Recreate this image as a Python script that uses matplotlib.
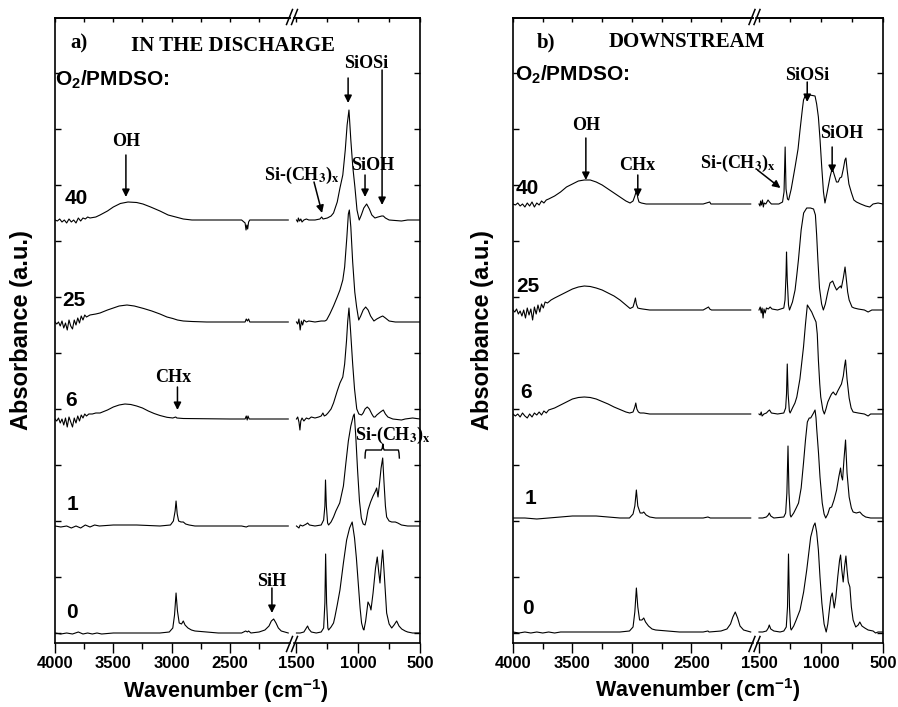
import matplotlib.pyplot as plt
import numpy as np

plt.rcParams['font.family'] = 'Liberation Sans'
plt.rcParams['font.weight'] = 'bold'
plt.rcParams['mathtext.fontset'] = 'custom'
plt.rcParams['mathtext.rm'] = 'Liberation Sans:bold'
plt.rcParams['mathtext.it'] = 'Liberation Sans:bold'
plt.rcParams['mathtext.bf'] = 'Liberation Sans:bold'

# O2/PMDSO ratios, bottom to top
ratios = ['0', '1', '6', '25', '40']

# vertical offset of each spectrum (a.u.)
offsets_a = [10, 117, 224, 321, 423]
offsets_b = [11, 125, 229, 333, 439]

# ---------------- a) IN THE DISCHARGE ----------------
# (wavenumber, absorbance) 4000-2000 cm-1
a0_hi = [(4000, 0), (3950, -1), (3900, 0), (3850, -1), (3800, 1), (3760, -1), (3720, 0), (3680, -1),
         (3640, 0), (3600, -1), (3500, 0), (3300, 0), (3100, 0), (3020, 1), (2990, 5), (2975, 18),
         (2962, 40), (2950, 22), (2935, 10), (2915, 9), (2900, 12), (2885, 8), (2860, 5), (2830, 3),
         (2800, 2), (2700, 1), (2600, 0), (2400, 0), (2365, 2), (2350, 1), (2340, 2), (2320, 0),
         (2250, 1), (2200, 3), (2165, 7), (2145, 12), (2125, 14), (2105, 10), (2085, 5), (2060, 2),
         (2030, 1), (2000, 0)]
a1_hi = [(4000, 0), (3950, -1), (3900, 0), (3860, -2), (3820, 0), (3780, -2), (3740, 1), (3700, -1),
         (3660, 1), (3620, 0), (3500, 1), (3400, 1), (3300, 1), (3100, 0), (3010, 1), (2985, 5),
         (2970, 15), (2962, 25), (2952, 12), (2940, 5), (2920, 4), (2900, 4), (2880, 2), (2850, 1),
         (2800, 0), (2400, 0), (2360, -1), (2340, 0), (2000, 0)]
a6_hi = [(4000, 0), (3985, -2), (3970, 1), (3955, -4), (3940, 0), (3925, -6), (3910, 1), (3895, -8),
         (3880, 2), (3865, -3), (3850, -8), (3835, 1), (3820, -4), (3805, 3), (3790, -2), (3775, 4),
         (3760, 1), (3745, 5), (3730, 3), (3710, 5), (3680, 5), (3650, 6), (3614, 6), (3550, 9),
         (3500, 12), (3450, 14), (3400, 15), (3350, 14.5), (3300, 13), (3250, 11), (3200, 8),
         (3150, 5.5), (3100, 3.5), (3040, 1.7), (2990, 1), (2965, 2), (2955, 1), (2900, 0.5),
         (2500, 0), (2370, 0), (2360, 3), (2352, -1), (2345, 3), (2335, 0), (2000, 0)]
a25_hi = [(4000, 0), (3985, -2), (3970, 0), (3955, -4), (3940, 1), (3925, -6), (3910, -1), (3895, -8),
          (3880, 2), (3865, -4), (3850, -7), (3835, 2), (3820, -3), (3805, 4), (3790, -1), (3775, 6),
          (3760, 2), (3745, 7), (3730, 5), (3700, 7), (3650, 8), (3614, 9), (3550, 12), (3500, 14),
          (3450, 16), (3383, 17), (3320, 16), (3240, 13.5), (3170, 11), (3100, 8), (3040, 5),
          (2990, 3.5), (2950, 2), (2900, 1), (2826, 0.5), (2700, 0), (2370, 0), (2360, 3),
          (2350, 1), (2340, 3), (2330, 0), (2000, 0)]
a40_hi = [(4000, 0), (3980, -1), (3960, 1), (3940, -2), (3920, 0), (3900, -3), (3880, 1), (3860, -2),
          (3840, 0), (3820, -3), (3800, 2), (3780, -1), (3760, 2), (3740, 1), (3720, 3), (3700, 2),
          (3650, 3), (3614, 5), (3550, 9), (3500, 13), (3440, 16.5), (3374, 18), (3300, 17.5),
          (3246, 16), (3180, 13), (3100, 9), (3030, 5), (2955, 2.7), (2900, 1), (2826, 0),
          (2400, 0), (2370, -3), (2362, -10), (2355, -5), (2348, -9), (2340, -2), (2330, 0), (2000, 0)]

# (wavenumber, absorbance) 1500-500 cm-1
a0_lo = [(1500, 0), (1470, 0), (1440, 1), (1420, 5), (1410, 7), (1400, 4), (1380, 1), (1340, 0),
         (1300, 1), (1280, 5), (1270, 30), (1264, 79), (1256, 30), (1246, 5), (1240, 3), (1220, 6),
         (1200, 10), (1189, 16), (1170, 28), (1148, 43), (1120, 70), (1094, 93), (1070, 105),
         (1049, 111), (1030, 95), (1015, 75), (1000, 50), (985, 25), (973, 10), (960, 4), (954, 3),
         (940, 12), (921, 31), (905, 27), (897, 23), (880, 40), (860, 65), (846, 76), (835, 62),
         (824, 50), (812, 70), (802, 83), (790, 60), (780, 40), (770, 20), (750, 9), (729, 5),
         (710, 8), (689, 12), (670, 7), (648, 4), (620, 2), (600, 1), (560, 0), (500, 0)]
a1_lo = [(1500, 0), (1480, -2), (1470, 1), (1450, 0), (1420, 2), (1410, 3), (1395, 1), (1350, 0),
         (1300, 1), (1280, 6), (1270, 20), (1265, 46), (1258, 20), (1248, 3), (1240, 1), (1220, 4),
         (1200, 9), (1181, 15), (1150, 23), (1120, 40), (1100, 63), (1080, 85), (1060, 100),
         (1040, 110), (1032, 112), (1020, 90), (1005, 55), (990, 25), (975, 8), (960, 2), (945, 1),
         (935, 6), (921, 16), (900, 24), (880, 30), (860, 35), (851, 38), (840, 29), (830, 40),
         (815, 58), (802, 68), (792, 45), (780, 20), (770, 9), (750, 5), (729, 4), (700, 4),
         (680, 3), (650, 1), (600, 0), (500, 0)]
a6_lo = [(1500, 0), (1490, 2), (1480, -3), (1472, -11), (1465, -2), (1455, 1), (1440, -2), (1420, 1),
         (1400, 0), (1380, 2), (1350, 1), (1320, 2), (1300, 3), (1286, 6), (1275, 3), (1260, 4),
         (1245, 6), (1220, 10), (1200, 16), (1170, 28), (1148, 36), (1125, 42), (1110, 55),
         (1095, 78), (1085, 98), (1075, 111), (1062, 88), (1045, 55), (1030, 30), (1012, 10),
         (995, 5), (973, 4), (960, 6), (945, 10), (927, 12), (910, 10), (890, 5), (875, 2),
         (864, 2), (850, 4), (820, 7), (797, 9), (780, 5), (760, 2), (720, 0), (650, -1),
         (620, 0), (560, 1), (500, 0)]
a25_lo = [(1500, 0), (1490, -2), (1480, 3), (1470, -8), (1460, 1), (1450, -3), (1440, 2), (1420, 0),
          (1400, 1), (1350, 0), (1300, 1), (1270, 1), (1256, 2), (1230, 8), (1200, 16), (1170, 25),
          (1148, 32), (1125, 42), (1110, 55), (1092, 85), (1080, 108), (1072, 112), (1060, 95),
          (1045, 60), (1028, 30), (1013, 15), (1000, 5), (996, 2), (980, 6), (960, 12), (940, 15),
          (920, 12), (900, 6), (873, 1), (850, 3), (820, 5), (802, 6), (780, 4), (750, 1),
          (700, 0), (500, 0)]
a40_lo = [(1500, 0), (1490, -2), (1485, 2), (1475, -1), (1465, 1), (1455, -2), (1440, 0), (1420, 1),
          (1400, 0), (1350, 0), (1310, 1), (1296, 3), (1285, 1), (1250, 2), (1220, 4), (1200, 7),
          (1170, 18), (1148, 32), (1125, 45), (1105, 70), (1090, 95), (1075, 110), (1060, 80),
          (1044, 53), (1027, 33), (1010, 10), (992, 0), (975, 5), (955, 12), (932, 16), (910, 11),
          (890, 5), (865, 2), (840, 3), (810, 4), (797, 4), (780, 2), (750, 0), (650, -1),
          (600, 0), (500, 0)]

# ---------------- b) DOWNSTREAM ----------------
b0_hi = [(4000, 0), (3950, -1), (3900, 0), (3850, -1), (3800, 0), (3750, -1), (3700, 0), (3650, -1),
         (3600, 0), (3500, 0), (3300, 0), (3100, 0), (3020, 1), (2990, 5), (2975, 20), (2962, 44),
         (2950, 25), (2935, 12), (2915, 12), (2900, 14), (2885, 10), (2860, 6), (2830, 3),
         (2800, 2), (2700, 1), (2600, 0), (2400, 0), (2360, 1), (2350, 0), (2250, 1), (2200, 3),
         (2170, 8), (2150, 15), (2130, 20), (2110, 14), (2090, 6), (2060, 2), (2030, 1), (2000, 0)]
b1_hi = [(4000, 0), (3900, 0), (3800, -1), (3700, 0), (3600, 1), (3500, 2), (3400, 2), (3300, 2),
         (3200, 1), (3100, 0), (3020, 0), (2990, 4), (2975, 12), (2962, 28), (2950, 12), (2930, 5),
         (2910, 5), (2900, 6), (2880, 3), (2850, 1), (2800, 0), (2400, 0), (2360, 1), (2340, 0),
         (2000, 0)]
b6_hi = [(4000, 0), (3980, -2), (3960, 0), (3940, -3), (3920, 1), (3900, -2), (3880, -4), (3860, 0),
         (3840, -3), (3820, 1), (3800, -1), (3780, 2), (3760, -1), (3740, 3), (3720, 1), (3700, 4),
         (3650, 6), (3600, 9), (3550, 12), (3500, 15), (3450, 16.5), (3400, 17), (3350, 16.5),
         (3300, 15), (3250, 12.5), (3200, 10), (3150, 7), (3100, 4.5), (3050, 2), (3018, 1),
         (2990, 2), (2975, 7), (2967, 11), (2958, 5), (2945, 2), (2930, 1), (2900, 1), (2850, 0),
         (2400, 0), (2000, 0)]
b25_hi = [(4000, 0), (3985, -2), (3970, 1), (3955, -4), (3940, -1), (3925, -6), (3910, 0), (3895, -8),
          (3880, 2), (3865, -5), (3850, 1), (3835, -10), (3820, 3), (3805, -4), (3790, 5), (3775, -2),
          (3760, 6), (3745, 2), (3730, 8), (3710, 7), (3680, 10), (3650, 12), (3600, 15),
          (3550, 18), (3500, 21), (3450, 23), (3400, 24), (3350, 23.5), (3300, 22), (3250, 20),
          (3200, 17), (3150, 14), (3100, 10), (3050, 5), (3015, 1.5), (2990, 3), (2978, 8),
          (2970, 12), (2962, 6), (2950, 2), (2935, 1.5), (2910, 1), (2850, 0), (2400, 0),
          (2370, 2), (2355, 3), (2345, 1), (2330, 0), (2000, 0)]
b40_hi = [(4000, 0), (3980, -1), (3960, 1), (3940, -2), (3920, 0), (3900, -3), (3880, 1), (3860, -2),
          (3840, 2), (3820, -3), (3800, 1), (3780, -1), (3760, 3), (3740, 1), (3720, 4), (3700, 5),
          (3650, 8), (3600, 12), (3550, 17), (3500, 20), (3450, 23), (3400, 24), (3350, 24),
          (3300, 22), (3250, 19), (3200, 15), (3150, 11), (3100, 7), (3050, 3), (3015, 1),
          (2990, 3), (2975, 8), (2960, 14), (2950, 6), (2940, 2), (2920, 1), (2880, 0), (2400, 0),
          (2345, 2), (2335, 0), (2000, 0)]

b0_lo = [(1500, 0), (1470, 0), (1440, 1), (1425, 4), (1417, 7), (1405, 3), (1380, 1), (1330, 0),
         (1300, 1), (1280, 5), (1270, 25), (1262, 78), (1254, 25), (1245, 4), (1240, 2), (1220, 6),
         (1200, 12), (1169, 22), (1140, 40), (1115, 62), (1083, 95), (1060, 106), (1048, 109),
         (1035, 100), (1021, 82), (1008, 55), (993, 29), (975, 8), (958, 0), (945, 8), (930, 25),
         (920, 35), (909, 39), (900, 30), (893, 24), (880, 35), (865, 55), (850, 72), (842, 77),
         (832, 62), (821, 50), (810, 65), (799, 76), (790, 62), (780, 50), (767, 45), (755, 25),
         (741, 12), (720, 5), (700, 7), (687, 10), (670, 6), (647, 4), (620, 2), (580, 1),
         (560, -1), (540, 0), (500, 0)]
b1_lo = [(1500, 0), (1470, 0), (1440, 1), (1425, 3), (1417, 5), (1405, 2), (1380, 0), (1300, 1),
         (1285, 5), (1275, 25), (1266, 72), (1258, 25), (1248, 3), (1242, 1), (1220, 5), (1200, 10),
         (1181, 15), (1160, 30), (1141, 55), (1125, 78), (1110, 96), (1095, 100), (1083, 100),
         (1060, 105), (1048, 108), (1040, 100), (1035, 90), (1020, 65), (1008, 41), (990, 15),
         (975, 4), (962, 0), (945, 4), (930, 10), (914, 11), (895, 18), (874, 28), (855, 42),
         (842, 50), (835, 42), (826, 38), (815, 58), (802, 78), (790, 45), (773, 21), (755, 10),
         (741, 6), (715, 5), (687, 6), (665, 3), (640, 1), (600, 0), (500, 0)]
b6_lo = [(1500, 0), (1490, -1), (1482, 2), (1475, -2), (1460, 0), (1440, 1), (1425, 3), (1415, 4),
         (1400, 1), (1350, 0), (1300, 1), (1285, 6), (1278, 20), (1272, 50), (1265, 20), (1255, 3),
         (1249, 1), (1230, 6), (1210, 11), (1195, 17), (1170, 35), (1141, 67), (1125, 90),
         (1110, 109), (1095, 106), (1075, 102), (1058, 97), (1040, 92), (1030, 80), (1021, 54),
         (1010, 30), (1002, 17), (985, 4), (973, 0), (960, 5), (945, 12), (927, 17), (915, 20),
         (901, 22), (890, 20), (880, 19), (865, 23), (848, 27), (835, 30), (820, 38), (810, 48),
         (802, 54), (790, 35), (773, 16), (757, 6), (741, 2), (700, 1), (650, 0), (620, -2),
         (600, 0), (500, 0)]
b25_lo = [(1500, 0), (1490, 3), (1482, -3), (1475, 2), (1467, -8), (1460, 1), (1450, -3), (1440, 2),
          (1425, 1), (1410, 3), (1395, 1), (1350, 0), (1300, 2), (1290, 10), (1282, 35), (1278, 58),
          (1272, 30), (1262, 5), (1254, 0), (1230, 8), (1209, 20), (1195, 35), (1182, 50),
          (1160, 80), (1140, 97), (1115, 102), (1085, 102), (1060, 101), (1045, 95), (1035, 75),
          (1025, 50), (1012, 22), (995, 6), (981, 0), (965, 6), (945, 18), (927, 27), (906, 29),
          (890, 24), (874, 20), (860, 22), (842, 24), (836, 22), (820, 32), (806, 43), (795, 30),
          (785, 18), (773, 10), (750, 3), (733, 2), (700, 1), (650, 0), (620, -2), (590, 0),
          (500, 0)]
b40_lo = [(1500, 0), (1492, -2), (1487, 3), (1480, -1), (1472, 4), (1465, -3), (1458, 1), (1445, 0),
          (1427, 4), (1415, 2), (1400, 0), (1340, 0), (1310, 2), (1298, 12), (1289, 57), (1282, 15),
          (1270, 5), (1261, 4), (1240, 15), (1209, 37), (1185, 55), (1169, 74), (1150, 95),
          (1141, 104), (1128, 108), (1090, 109), (1048, 108), (1035, 100), (1021, 87), (1008, 65),
          (994, 37), (980, 12), (968, 1), (950, 12), (927, 27), (909, 36), (895, 30), (875, 22),
          (861, 22), (848, 26), (834, 27), (820, 35), (807, 44), (799, 46), (790, 35), (775, 20),
          (754, 11), (735, 4), (714, 2), (680, 0), (640, -2), (607, -3), (580, 0), (540, 1),
          (500, 0)]

spec_a = [(a0_hi, a0_lo), (a1_hi, a1_lo), (a6_hi, a6_lo), (a25_hi, a25_lo), (a40_hi, a40_lo)]
spec_b = [(b0_hi, b0_lo), (b1_hi, b1_lo), (b6_hi, b6_lo), (b25_hi, b25_lo), (b40_hi, b40_lo)]

W, H = 898, 707
fig = plt.figure(figsize=(W / 100, H / 100), dpi=100)


def P(x, y):
    # pixel position -> figure fraction
    return x / W, 1 - y / H


def make_panel(x0, xb, x1):
    bottom = 1 - 643 / H
    height = 625 / H
    axl = fig.add_axes([x0 / W, bottom, (xb - 2 - x0) / W, height])
    axr = fig.add_axes([(xb + 2) / W, bottom, (x1 - xb - 2) / W, height], sharey=axl)
    axl.set_xlim(4000, 1985)
    axr.set_xlim(1520, 500)
    axl.set_ylim(0, 625)
    yt = np.arange(10, 625, 56)
    for ax, side in ((axl, 'left'), (axr, 'right')):
        for s in ax.spines.values():
            s.set_linewidth(1.2)
        ax.spines['right' if side == 'left' else 'left'].set_visible(False)
        ax.set_yticks(yt)
        ax.tick_params(axis='y', direction='in', length=4, width=1,
                       left=(side == 'left'), right=(side == 'right'),
                       labelleft=False, labelright=False)
        ax.tick_params(axis='x', which='major', direction='out', length=7, width=1,
                       labelsize=12, pad=2, top=False)
        ax.tick_params(axis='x', which='minor', direction='out', length=4, width=1, top=False)
        sec = ax.secondary_xaxis('top')
        sec.spines['top'].set_linewidth(1.2)
        sec.tick_params(axis='x', which='both', direction='in', length=3, width=1, labeltop=False)
    axl.set_xticks([4000, 3500, 3000, 2500])
    axl.set_xticks([3750, 3250, 2750, 2250], minor=True)
    axr.set_xticks([1500, 1000, 500])
    axr.set_xticks([1250, 750], minor=True)
    for ax in (axl, axr):
        sec = ax.child_axes[0]
        sec.set_xticks(ax.get_xticks())
        sec.set_xticks(ax.get_xticks(minor=True), minor=True)
        sec.set_xticklabels([])
    # break marks on top and bottom spines
    for yb in (17, 644):
        for dx in (-3, 2):
            xc = xb + dx
            fig.add_artist(plt.Line2D([P(xc - 2.5, 0)[0], P(xc + 3.5, 0)[0]],
                                      [P(0, yb + 7.5)[1], P(0, yb - 7.5)[1]],
                                      color='k', lw=1.1))
    return axl, axr


axa_l, axa_r = make_panel(55, 292, 420)
axb_l, axb_r = make_panel(513, 754.5, 883)

for (axl, axr, spec, offs) in ((axa_l, axa_r, spec_a, offsets_a), (axb_l, axb_r, spec_b, offsets_b)):
    for (hi, lo), off in zip(spec, offs):
        w, y = zip(*hi)
        axl.plot(w, np.array(y) + off, color='k', lw=0.8)
        w, y = zip(*lo)
        axr.plot(w, np.array(y) + off, color='k', lw=0.8)

serif = dict(family='Liberation Serif', weight='bold', ha='center', va='center')
sans = dict(family='Liberation Sans', weight='bold', va='center')
arrow = dict(arrowstyle='-|>', color='k', lw=1.1, mutation_scale=11, shrinkA=0, shrinkB=0)


def label(px, py, s, size=13, **kw):
    fig.text(*P(px, py), s, fontsize=size, math_fontfamily='stix', **serif, **kw)


def pointer(ax, x0, y0, x1, y1):
    ax.annotate('', xy=(x1, y1), xytext=(x0, y0), arrowprops=arrow, annotation_clip=False)


sich3 = r'Si-(CH$_\mathbf{3}$)$_\mathbf{x}$'

# panel a texts
label(79, 43, 'a)', 15)
label(233, 46, 'IN THE DISCHARGE', 15)
fig.text(*P(55, 80), r'O$_2$/PMDSO:', fontsize=15, ha='left', **sans)
label(126, 142, 'OH')
label(366, 64, 'SiOSi')
label(373, 165, 'SiOH')
label(302, 175, sich3)
label(173, 377, 'CHx')
label(272, 582, 'SiH')
label(393, 435, sich3)
pointer(axa_l, 3392, 488, 3392, 446)
pointer(axa_l, 2950, 256, 2950, 233)
pointer(axa_l, 2140, 55, 2140, 30)
pointer(axa_r, 1082, 565, 1082, 540)
pointer(axa_r, 807, 573, 807, 438)
pointer(axa_r, 945, 468, 945, 446)
pointer(axa_r, 1358, 461, 1293, 430)
brace_w = [945, 943, 938, 812, 805, 801, 797, 790, 675, 670, 667]
brace_h = [185, 190, 193, 193, 195, 199, 195, 193, 193, 190, 185]
axa_r.plot(brace_w, brace_h, color='k', lw=1, clip_on=False)
for r, (px, py) in zip(ratios, [(72, 613), (72, 505), (71, 400), (74, 300), (76, 198)]):
    fig.text(*P(px, py), r, fontsize=15, ha='center', **sans)
fig.text(*P(22, 330), 'Absorbance (a.u.)', fontsize=17, rotation=90, ha='center', **sans)
fig.text(*P(226, 691), r'Wavenumber (cm$^{-1}$)', fontsize=15.5, ha='center', **sans)

# panel b texts
label(546, 42, 'b)', 15)
label(687, 42, 'DOWNSTREAM', 15)
fig.text(*P(515, 75), r'O$_2$/PMDSO:', fontsize=15, ha='left', **sans)
label(586, 125, 'OH')
label(637, 165, 'CHx')
label(738, 163, sich3)
label(807, 75, 'SiOSi')
label(842, 133, 'SiOH')
pointer(axb_l, 3387, 505, 3387, 463)
pointer(axb_l, 2950, 468, 2950, 446)
pointer(axb_r, 1512, 473, 1327, 455)
pointer(axb_r, 1111, 561, 1111, 541)
pointer(axb_r, 910, 496, 910, 470)
for r, (px, py) in zip(ratios, [(528, 608), (530, 498), (526, 393), (528, 287), (527, 188)]):
    fig.text(*P(px, py), r, fontsize=15, ha='center', **sans)
fig.text(*P(482, 330), 'Absorbance (a.u.)', fontsize=17, rotation=90, ha='center', **sans)
fig.text(*P(698, 690), r'Wavenumber (cm$^{-1}$)', fontsize=15.5, ha='center', **sans)

fig.savefig('out.png', dpi=100)
